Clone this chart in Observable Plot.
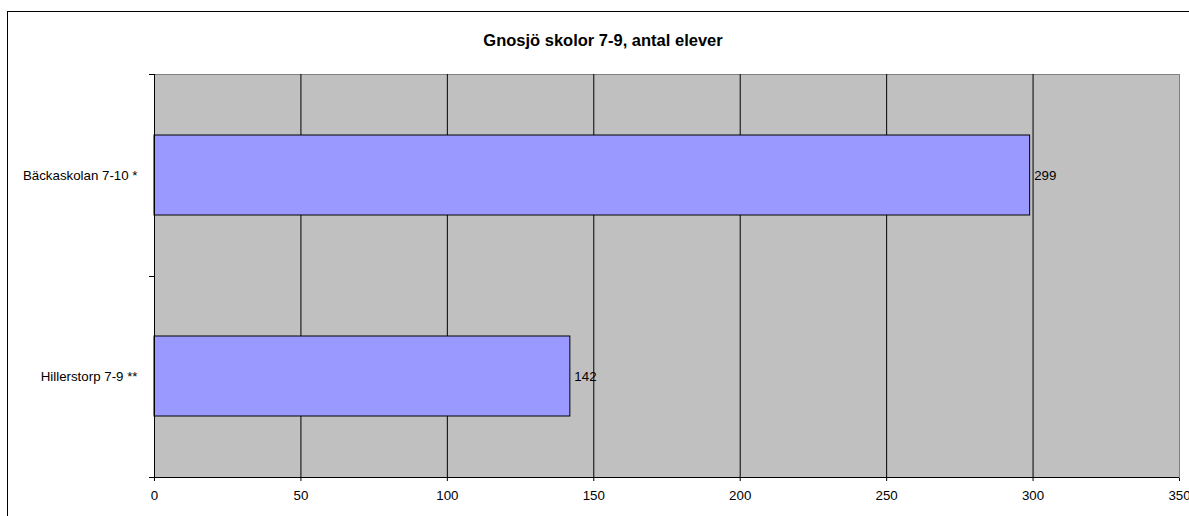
<!DOCTYPE html>
<html><head><meta charset="utf-8">
<script src="https://cdn.jsdelivr.net/npm/d3@7"></script>
<script src="https://cdn.jsdelivr.net/npm/@observablehq/plot@0.6"></script>
<style>
body{margin:0;width:1189px;height:516px;overflow:hidden;background:#fff;font-family:"Liberation Sans",Arial,sans-serif;position:relative;}
#frame{position:absolute;left:7px;top:11px;width:1192px;height:560px;border:1px solid #000;box-sizing:border-box;}
#title{position:absolute;left:7px;width:1192px;top:31px;text-align:center;font-weight:bold;font-size:16.5px;line-height:18px;color:#000;}
#chart{position:absolute;left:0;top:73px;}
</style></head><body>
<div id="frame"></div>
<div id="title">Gnosjö skolor 7-9, antal elever</div>
<div id="chart"></div>
<script>
const schools = ["Bäckaskolan 7-10 *", "Hillerstorp 7-9 **"];
const students = [299, 142];
const xTicks = [0, 50, 100, 150, 200, 250, 300, 350];
const data = schools.map((s, i) => ({school: s, n: students[i]}));

const W = 1189, H = 443, mT = 1, mB = 39, mL = 154, mR = 10;

function axisDecor(index, scales, values, dims) {
  const g = d3.create("svg:g");
  const top = dims.marginTop, bottom = dims.height - dims.marginBottom;
  const left = dims.marginLeft, right = dims.width - dims.marginRight;
  const n = schools.length;
  const step = (bottom - top) / n;
  for (let i = 0; i <= n; i++) {
    const y = Math.round(top + i * step) + 0.5;
    g.append("line").attr("x1", left - 5).attr("x2", left).attr("y1", y).attr("y2", y)
      .attr("stroke", "#000");
  }
  g.append("line").attr("x1", left).attr("x2", right).attr("y1", bottom + 0.5).attr("y2", bottom + 0.5)
    .attr("stroke", "#000");
  g.append("line").attr("x1", left + 0.5).attr("x2", left + 0.5).attr("y1", top).attr("y2", bottom)
    .attr("stroke", "#000");
  return g.node();
}

const chart = Plot.plot({
  width: W, height: H,
  marginTop: mT, marginBottom: mB, marginLeft: mL, marginRight: mR,
  style: {fontFamily: "'Liberation Sans', Arial, sans-serif", fontSize: "13.3px", color: "#000", background: "transparent"},
  x: {domain: [0, 350], ticks: xTicks, tickSize: 4, tickPadding: 9, label: null, tickFormat: d => String(d)},
  y: {domain: schools, paddingInner: 0.6, paddingOuter: 0.3, tickSize: 0, tickPadding: 17, label: null},
  marks: [
    Plot.frame({fill: "#c0c0c0", stroke: "#808080"}),
    Plot.ruleX(xTicks.filter(d => d > 0 && d < 350), {stroke: "#000", strokeWidth: 1}),
    Plot.barX(data, {x: "n", y: "school", fill: "#9999ff", stroke: "#000", strokeWidth: 1}),
    Plot.text(data, {x: "n", y: "school", text: d => String(d.n), textAnchor: "start", dx: 4, fill: "#000", fontSize: 13.3}),
    axisDecor
  ]
});
document.getElementById("chart").appendChild(chart);
</script>
</body></html>
